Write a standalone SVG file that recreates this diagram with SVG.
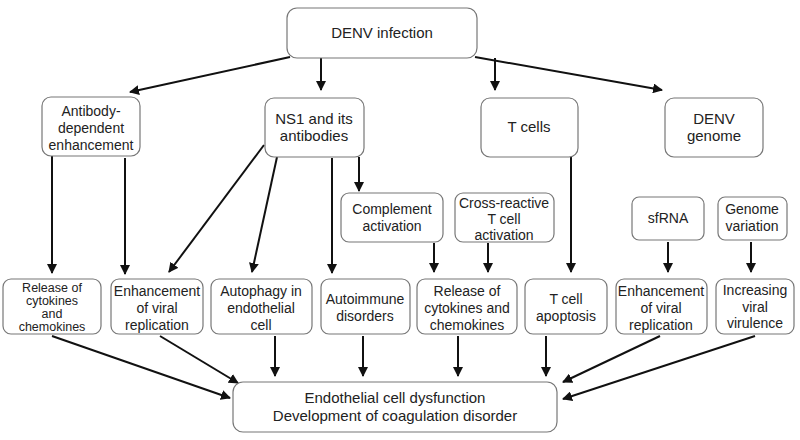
<svg xmlns="http://www.w3.org/2000/svg" width="800" height="440" viewBox="0 0 800 440">
<style>
.n rect{fill:#fff;stroke:#777;stroke-width:1.2}
text{font-family:"Liberation Sans",Arial,sans-serif;font-size:14px;fill:#222;text-anchor:middle}
.b text{font-size:15px}
.s text{font-size:12.5px}
#edges line{stroke:#111;stroke-width:2;marker-end:url(#a)}
</style>
<defs><marker id="a" viewBox="0 0 10 10" refX="9" refY="5" markerWidth="5" markerHeight="5" orient="auto"><path d="M0,0 L10,5 L0,10 z" fill="#111"/></marker></defs>
<rect width="800" height="440" fill="#fff"/>
<g id="edges">
<line x1="290" y1="57" x2="130" y2="92"/>
<line x1="321" y1="58" x2="321" y2="90"/>
<line x1="495" y1="58" x2="495" y2="90"/>
<line x1="475" y1="57" x2="662" y2="90"/>
<line x1="52" y1="156" x2="52" y2="273"/>
<line x1="125" y1="158" x2="125" y2="274"/>
<line x1="264" y1="145" x2="169" y2="272"/>
<line x1="277" y1="157" x2="252" y2="272"/>
<line x1="332" y1="158" x2="332" y2="273"/>
<line x1="359" y1="157" x2="359" y2="191"/>
<line x1="434" y1="243" x2="434" y2="272"/>
<line x1="488" y1="243" x2="488" y2="272"/>
<line x1="571" y1="157" x2="571" y2="272"/>
<line x1="668" y1="242" x2="668" y2="272"/>
<line x1="751" y1="242" x2="751" y2="272"/>
<line x1="52" y1="336" x2="230" y2="398"/>
<line x1="160" y1="336" x2="238" y2="383"/>
<line x1="275" y1="336" x2="275" y2="376"/>
<line x1="363" y1="336" x2="363" y2="376"/>
<line x1="458" y1="336" x2="458" y2="376"/>
<line x1="546" y1="336" x2="546" y2="376"/>
<line x1="660" y1="336" x2="563" y2="382"/>
<line x1="755" y1="336" x2="563" y2="399"/>
</g>
<g id="denv" class="n b"><rect x="287" y="8" width="190" height="50" rx="10"/><text x="382" y="38">DENV infection</text></g>
<g id="ade" class="n"><rect x="42" y="97" width="98" height="59" rx="9"/><text x="91" y="116">Antibody-</text><text x="91" y="133">dependent</text><text x="91" y="150">enhancement</text></g>
<g id="ns1" class="n b"><rect x="265" y="98" width="99" height="59" rx="9"/><text x="314" y="124">NS1 and its</text><text x="314" y="141">antibodies</text></g>
<g id="tcells" class="n b"><rect x="481" y="98" width="97" height="59" rx="9"/><text x="529" y="132">T cells</text></g>
<g id="genome" class="n b"><rect x="665" y="98" width="98" height="59" rx="9"/><text x="714" y="124">DENV</text><text x="714" y="141">genome</text></g>
<g id="complement" class="n"><rect x="341" y="193" width="102" height="49" rx="8"/><text x="392" y="214">Complement</text><text x="392" y="231">activation</text></g>
<g id="cross" class="n"><rect x="455" y="193" width="99" height="49" rx="8"/><text x="504" y="208">Cross-reactive</text><text x="504" y="224">T cell</text><text x="504" y="240">activation</text></g>
<g id="sfrna" class="n"><rect x="632" y="197" width="72" height="43" rx="7"/><text x="668" y="223">sfRNA</text></g>
<g id="variation" class="n"><rect x="718" y="197" width="69" height="43" rx="7"/><text x="752" y="214">Genome</text><text x="752" y="231">variation</text></g>
<g id="release1" class="n s"><rect x="3" y="279" width="98" height="55" rx="8"/><text x="52" y="292">Release of</text><text x="52" y="305">cytokines</text><text x="52" y="318">and</text><text x="52" y="331">chemokines</text></g>
<g id="enh1" class="n"><rect x="111" y="279" width="92" height="55" rx="8"/><text x="157" y="296">Enhancement</text><text x="157" y="313">of viral</text><text x="157" y="330">replication</text></g>
<g id="autophagy" class="n"><rect x="211" y="279" width="101" height="55" rx="8"/><text x="261" y="296">Autophagy in</text><text x="261" y="313">endothelial</text><text x="261" y="330">cell</text></g>
<g id="autoimmune" class="n"><rect x="321" y="279" width="89" height="55" rx="8"/><text x="365" y="304">Autoimmune</text><text x="365" y="321">disorders</text></g>
<g id="release2" class="n"><rect x="417" y="279" width="100" height="55" rx="8"/><text x="467" y="296">Release of</text><text x="467" y="313">cytokines and</text><text x="467" y="330">chemokines</text></g>
<g id="apoptosis" class="n"><rect x="525" y="279" width="82" height="55" rx="8"/><text x="566" y="304">T cell</text><text x="566" y="321">apoptosis</text></g>
<g id="enh2" class="n"><rect x="616" y="279" width="91" height="55" rx="8"/><text x="661" y="296">Enhancement</text><text x="661" y="313">of viral</text><text x="661" y="330">replication</text></g>
<g id="virulence" class="n"><rect x="716" y="279" width="78" height="55" rx="8"/><text x="755" y="295">Increasing</text><text x="755" y="312">viral</text><text x="755" y="328">virulence</text></g>
<g id="final" class="n b"><rect x="233" y="382" width="324" height="50" rx="10"/><text x="395" y="403">Endothelial cell dysfunction</text><text x="395" y="421">Development of coagulation disorder</text></g>
</svg>
